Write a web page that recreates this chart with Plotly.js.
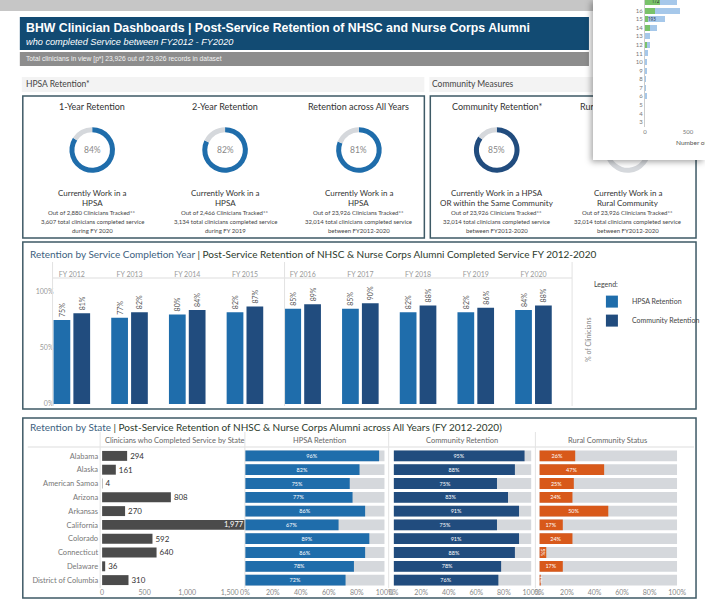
<!DOCTYPE html>
<html><head><meta charset="utf-8">
<script src="https://cdn.plot.ly/plotly-3.0.1.min.js"></script>
<style>
body{margin:0;background:#fff;}
#main{position:absolute;left:0;top:0;width:705px;height:606px;}
#mini{position:absolute;left:593px;top:0;width:112px;height:160px;background:#fff;box-shadow:-2px 2px 6px rgba(0,0,0,0.35);}
</style></head>
<body>
<div id="main"></div>
<div id="mini"></div>
<script>
// ---------- DATA ----------
const years = ['FY 2012','FY 2013','FY 2014','FY 2015','FY 2016','FY 2017','FY 2018','FY 2019','FY 2020'];
const hpsaByYear = [0.75,0.77,0.80,0.82,0.85,0.85,0.82,0.82,0.84];
const commByYear = [0.81,0.82,0.84,0.87,0.89,0.90,0.88,0.86,0.88];

const states = ['Alabama','Alaska','American Samoa','Arizona','Arkansas','California','Colorado','Connecticut','Delaware','District of Columbia'];
const stateCounts = [294,161,4,808,270,1977,592,640,36,310];
const stateHpsa = [0.96,0.82,0.75,0.77,0.86,0.67,0.89,0.86,0.78,0.72];
const stateComm = [0.95,0.88,0.75,0.83,0.91,0.75,0.91,0.88,0.78,0.76];
const stateRural = [0.26,0.47,0.25,0.24,0.50,0.17,0.24,0.05,0.17,0.01];

const cardTitles = ['1-Year Retention','2-Year Retention','Retention across All Years','Community Retention*','Rural Community Status'];
const cardValues = [0.84,0.82,0.81,0.85,0.23];
const cardLine1 = ['Currently Work in a','Currently Work in a','Currently Work in a','Currently Work in a HPSA','Currently Work in a'];
const cardLine2 = ['HPSA','HPSA','HPSA','OR within the Same Community','Rural Community'];
const cardTracked = ['Out of 2,880 Clinicians Tracked**','Out of 2,466 Clinicians Tracked**','Out of 23,926 Clinicians Tracked**','Out of 23,926 Clinicians Tracked**','Out of 23,926 Clinicians Tracked**'];
const cardTotal = ['3,607 total clinicians completed service','3,134 total clinicians completed service','32,014 total clinicians completed service','32,014 total clinicians completed service','32,014 total clinicians completed service'];
const cardPeriod = ['during FY 2020','during FY 2019','between FY2012-2020','between FY2012-2020','between FY2012-2020'];

const miniRows = [17,16,15,14,13,12,11,10,9,8,7,6,5,4,3];
const miniGreen = [172,116,35,58,0,20,0,0,0,0,0,0,0,0,0];
const miniBlue = [200,290,193,80,58,40,35,20,22,12,12,20,5,3,4];

// ---------- HELPERS ----------
const W=705,H=606;
const px = x => x/W;
const py = y => 1 - y/H;
const HPSA='#1f6dab', COMM='#214c7e', RUR='#d8591a', GREYBG='#d5d8dc', CNT='#4b4b4b';
const FONT='Lato, "Open Sans", sans-serif';
const NARROW='"Liberation Sans Narrow","Arial Narrow","Liberation Sans",sans-serif';
const pct = v => Math.round(v*100)+'%';

const traces=[];
const annotations=[];
const shapes=[];
function ann(x,y,text,o){annotations.push(Object.assign({xref:'paper',yref:'paper',x:px(x),y:py(y),text:text,showarrow:false,xanchor:'center',yanchor:'middle',font:{size:8,color:'#333',family:FONT}},o||{}));}
function rect(x0,y0,x1,y1,o){shapes.push(Object.assign({type:'rect',xref:'paper',yref:'paper',x0:px(x0),x1:px(x1),y0:py(y1),y1:py(y0),line:{width:0}},o||{}));}
function line(x0,y0,x1,y1,c,w){shapes.push({type:'line',xref:'paper',yref:'paper',x0:px(x0),x1:px(x1),y0:py(y0),y1:py(y1),line:{color:c,width:w||1}});}

// ---------- HEADER ----------
rect(0,0,705,11,{fillcolor:'#c6c6c6'});
rect(20,17,594,50,{fillcolor:'#124b73'});
rect(20,52,594,66,{fillcolor:'#8d8d8d'});
ann(24,28,'<b>BHW Clinician Dashboards | Post-Service Retention of NHSC and Nurse Corps Alumni</b>',{xanchor:'left',font:{size:12.3,color:'#fff',family:NARROW}});
ann(24,42,'<i>who completed Service between FY2012 - FY2020</i>',{xanchor:'left',font:{size:9.2,color:'#fff',family:NARROW}});
ann(24,59,'Total clinicians in view [p*] 23,926 out of 23,926 records in dataset',{xanchor:'left',font:{size:6.7,color:'#f4f4f4',family:NARROW}});

// ---------- TOP CARDS ----------
rect(22,77,428,92,{fillcolor:'#f3f3f3'});
rect(433,77,600,92,{fillcolor:'#f3f3f3'});
ann(24,84,'HPSA Retention*',{xanchor:'left',font:{size:8.5,color:'#444',family:FONT}});
ann(434,84,'Community Measures',{xanchor:'left',font:{size:8.5,color:'#444',family:FONT}});
rect(23,96,428,238,{line:{color:'#3e5a66',width:1.5}});
rect(434,96,702,238,{line:{color:'#3e5a66',width:1.5}});
const cardX=[93,227,362,501,633];
const cardColor=[HPSA,HPSA,HPSA,COMM,RUR];
cardTitles.forEach((t,i)=>{
  const cx=cardX[i];
  traces.push({type:'pie',values:[cardValues[i],1-cardValues[i]],marker:{colors:[cardColor[i],GREYBG]},hole:0.78,sort:false,direction:'clockwise',rotation:0,textinfo:'none',hoverinfo:'none',showlegend:false,
    domain:{x:[px(cx-23),px(cx+23)],y:[py(173),py(127)]}});
  ann(cx,106,t,{font:{size:9,color:'#333',family:FONT}});
  ann(cx,150,pct(cardValues[i]),{font:{size:8.5,color:'#888',family:FONT}});
  ann(cx,193,cardLine1[i],{font:{size:8,color:'#333',family:FONT}});
  ann(cx,203,cardLine2[i],{font:{size:8,color:'#333',family:FONT}});
  ann(cx,212,cardTracked[i],{font:{size:6,color:'#444',family:FONT}});
  ann(cx,221,cardTotal[i],{font:{size:6,color:'#444',family:FONT}});
  ann(cx,230,cardPeriod[i],{font:{size:6,color:'#444',family:FONT}});
});

// ---------- MIDDLE PANEL ----------
rect(23,242,702,409,{line:{color:'#3e5a66',width:1.5}});
ann(28,254,'<span style="color:#3d5f80">Retention by Service Completion Year</span> | Post-Service Retention of NHSC &amp; Nurse Corps Alumni Completed Service FY 2012-2020',{xanchor:'left',font:{size:10,color:'#2c3a2c',family:FONT}});
line(53,278,577,278,'#dddddd',1);
[53,287,577].forEach(x=>line(x,262,x,406,'#e2e2e2',1));
ann(593,340,'% of Clinicians',{textangle:-90,font:{size:7,color:'#888',family:FONT}});

traces.push({type:'bar',name:'HPSA Retention',x:years,y:hpsaByYear,xaxis:'x',yaxis:'y',marker:{color:HPSA},offset:-0.318,width:0.29,
  text:hpsaByYear.map(pct),textposition:'outside',textangle:-90,cliponaxis:false,textfont:{size:7,color:'#555',family:FONT},hoverinfo:'none'});
traces.push({type:'bar',name:'Community Retention',x:years,y:commByYear,xaxis:'x',yaxis:'y',marker:{color:COMM},offset:0.026,width:0.29,
  text:commByYear.map(pct),textposition:'outside',textangle:-90,cliponaxis:false,textfont:{size:7,color:'#555',family:FONT},hoverinfo:'none'});

// ---------- BOTTOM PANEL ----------
rect(23,418,702,598,{line:{color:'#3e5a66',width:1.5}});
ann(28,427,'<span style="color:#3d5f80">Retention by State</span> | Post-Service Retention of NHSC &amp; Nurse Corps Alumni across All Years (FY 2012-2020)',{xanchor:'left',font:{size:10,color:'#2c3a2c',family:FONT}});
line(28,447,700,447,'#dddddd',1);
[101,247,392,540].forEach(x=>line(x,432,x,588,'#e4e4e4',1));
ann(176,440,'Clinicians who Completed Service by State',{font:{size:7.5,color:'#666',family:FONT}});
ann(322,440,'HPSA Retention',{font:{size:7.5,color:'#666',family:FONT}});
ann(466,440,'Community Retention',{font:{size:7.5,color:'#666',family:FONT}});
ann(613,440,'Rural Community Status',{font:{size:7.5,color:'#666',family:FONT}});

const CNTMAX=1690;
traces.push({type:'bar',orientation:'h',y:states,x:stateCounts,xaxis:'x2',yaxis:'y2',marker:{color:CNT},width:0.72,showlegend:false,hoverinfo:'none',
  text:stateCounts.map(v=>v.toLocaleString('en-US')),textposition:stateCounts.map(v=>v>CNTMAX?'none':'outside'),textfont:{size:8,color:'#333',family:FONT}});
stateCounts.forEach((v,i)=>{ if(v>CNTMAX) annotations.push({xref:'x2',yref:'y2',x:CNTMAX,y:states[i],text:v.toLocaleString('en-US'),showarrow:false,xanchor:'right',font:{size:7.5,color:'#fff',family:FONT}}); });

const ones = states.map(()=>1);
[['x3',stateHpsa,HPSA],['x4',stateComm,COMM],['x5',stateRural,RUR]].forEach(([ax,vals,col])=>{
  traces.push({type:'bar',orientation:'h',y:states,x:ones,xaxis:ax,yaxis:'y2',marker:{color:GREYBG},width:0.78,showlegend:false,hoverinfo:'none'});
  traces.push({type:'bar',orientation:'h',y:states,x:vals,xaxis:ax,yaxis:'y2',marker:{color:col},width:0.78,showlegend:false,hoverinfo:'none',
    text:vals.map(pct),textposition:'inside',insidetextanchor:'middle',constraintext:'none',textfont:{size:5.5,color:'#fff',family:FONT}});
});

const pctAxis = d=>({domain:[px(d[0]),px(d[1])],range:[0,1],anchor:'y2',tickvals:[0,0.2,0.4,0.6,0.8,1],tickformat:'.0%',showgrid:false,zeroline:false,ticks:'',tickfont:{size:7,color:'#888',family:FONT},fixedrange:true});

const layout={
  width:705,height:606,margin:{l:0,r:0,t:0,b:0},paper_bgcolor:'#fff',plot_bgcolor:'rgba(0,0,0,0)',
  barmode:'overlay',font:{family:FONT,color:'#444'},
  xaxis:{domain:[px(43.4),px(567.2)],anchor:'free',position:py(278),side:'top',type:'category',showline:false,showgrid:false,zeroline:false,ticks:'',tickfont:{size:7,color:'#999',family:FONT},fixedrange:true},
  yaxis:{domain:[py(404),py(292)],range:[0,1],anchor:'free',position:px(54),tickvals:[0,0.5,1],tickformat:'.0%',showgrid:false,zeroline:false,showline:false,ticks:'',tickfont:{size:7,color:'#999',family:FONT},fixedrange:true},
  xaxis2:{domain:[px(103),px(248)],range:[0,CNTMAX],anchor:'y2',tickvals:[0,500,1000,1500],tickformat:',',showgrid:false,zeroline:false,ticks:'',tickfont:{size:7,color:'#888',family:FONT},fixedrange:true},
  yaxis2:{domain:[py(587),py(449)],type:'category',autorange:'reversed',anchor:'x2',showgrid:false,zeroline:false,ticks:'',ticklabelstandoff:3,tickfont:{size:7.5,color:'#777',family:FONT},fixedrange:true},
  xaxis3:pctAxis([247,388]),
  xaxis4:pctAxis([397,536]),
  xaxis5:pctAxis([544,683]),
  legend:{x:px(597),y:py(278),xanchor:'left',yanchor:'top',title:{text:'Legend:',font:{size:7,color:'#444'}},font:{size:7,color:'#444',family:FONT},bgcolor:'rgba(0,0,0,0)',itemwidth:30},
  shapes:shapes,annotations:annotations
};
Plotly.newPlot('main',traces,layout,{staticPlot:true});

// ---------- OVERLAY MINI CHART ----------
const mtr=[
 {type:'bar',orientation:'h',y:miniRows,x:miniGreen,marker:{color:'#79c26a'},width:0.7,hoverinfo:'none',
  text:miniGreen.map((v,i)=>i===0?String(v):''),textposition:'inside',textfont:{size:6,color:'#223'}},
 {type:'bar',orientation:'h',y:miniRows,x:miniBlue,marker:{color:'#a6c8ea'},width:0.7,hoverinfo:'none',
  text:miniBlue.map((v,i)=>i===2?String(v):''),textposition:'inside',insidetextanchor:'start',textfont:{size:6,color:'#223'}}
];
const mlay={width:112,height:160,margin:{l:0,r:0,t:0,b:0},paper_bgcolor:'#fff',plot_bgcolor:'#fff',barmode:'stack',showlegend:false,
  xaxis:{domain:[52/112,1],range:[0,698],tickvals:[0,500],showgrid:false,zeroline:false,ticks:'',tickfont:{size:6,color:'#777',family:FONT}},
  yaxis:{domain:[1-127/160,1],range:[2.42,17.23],tickvals:miniRows,showgrid:false,zeroline:false,showline:true,linecolor:'#ccc',ticks:'',tickfont:{size:6,color:'#777',family:FONT}},
  annotations:[{xref:'paper',yref:'paper',x:81/112,y:1-148/160,text:'Number of Clinicians',showarrow:false,xanchor:'left',font:{size:6.5,color:'#555',family:FONT}}]
};
Plotly.newPlot('mini',mtr,mlay,{staticPlot:true});
</script>
</body></html>
